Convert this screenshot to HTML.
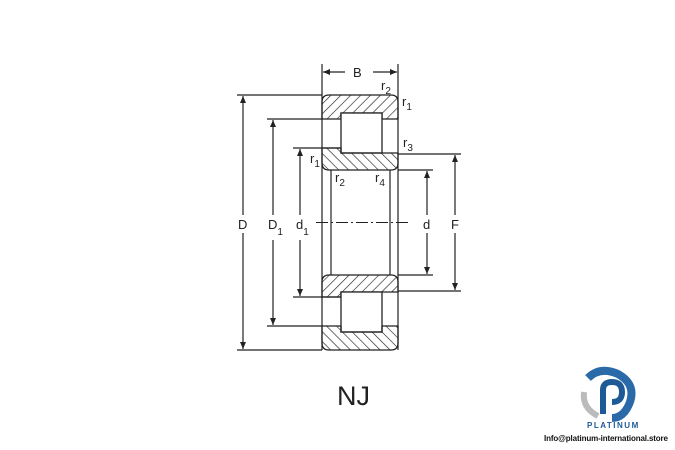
<!DOCTYPE html>
<html><head><meta charset="utf-8"><style>
html,body{margin:0;padding:0;background:#fff;}
svg{display:block;font-family:"Liberation Sans",sans-serif;}
</style></head><body>
<svg width="675" height="450" viewBox="0 0 675 450" xmlns="http://www.w3.org/2000/svg">
<defs>
<pattern id="h1" patternUnits="userSpaceOnUse" width="7" height="7" patternTransform="rotate(45)">
<line x1="0" y1="0" x2="0" y2="7" stroke="#222" stroke-width="1.3"/></pattern>
<pattern id="h2" patternUnits="userSpaceOnUse" width="7" height="7" patternTransform="rotate(-45)">
<line x1="0" y1="0" x2="0" y2="7" stroke="#222" stroke-width="1.3"/></pattern>
<marker id="a" markerWidth="8" markerHeight="8" refX="7" refY="3" orient="auto" markerUnits="userSpaceOnUse">
<path d="M0,0 L7,3 L0,6 z" fill="#222"/></marker>
</defs>
<g stroke="#222" stroke-width="1.2" fill="none">
<line x1="322" y1="64" x2="322" y2="350"/>
<line x1="398" y1="64" x2="398" y2="350"/>
<line x1="331" y1="170" x2="331" y2="275"/>
<line x1="390" y1="170" x2="390" y2="275"/>
<line x1="345" y1="72" x2="323" y2="72" marker-end="url(#a)"/>
<line x1="373" y1="72" x2="397" y2="72" marker-end="url(#a)"/>
<line x1="237" y1="95" x2="322" y2="95"/>
<line x1="237" y1="350" x2="322" y2="350"/>
<line x1="267" y1="119" x2="322" y2="119"/>
<line x1="267" y1="326" x2="322" y2="326"/>
<line x1="293" y1="148" x2="341" y2="148"/>
<line x1="293" y1="297" x2="341" y2="297"/>
<line x1="398" y1="154" x2="461" y2="154"/>
<line x1="398" y1="291" x2="461" y2="291"/>
<line x1="398" y1="170" x2="433" y2="170"/>
<line x1="398" y1="275" x2="433" y2="275"/>
<line x1="243" y1="215" x2="243" y2="96" marker-end="url(#a)"/>
<line x1="243" y1="233" x2="243" y2="349" marker-end="url(#a)"/>
<line x1="273" y1="215" x2="273" y2="120" marker-end="url(#a)"/>
<line x1="273" y1="240" x2="273" y2="325" marker-end="url(#a)"/>
<line x1="300" y1="215" x2="300" y2="149" marker-end="url(#a)"/>
<line x1="300" y1="240" x2="300" y2="296" marker-end="url(#a)"/>
<line x1="427" y1="215" x2="427" y2="171" marker-end="url(#a)"/>
<line x1="427" y1="233" x2="427" y2="274" marker-end="url(#a)"/>
<line x1="455" y1="215" x2="455" y2="155" marker-end="url(#a)"/>
<line x1="455" y1="233" x2="455" y2="290" marker-end="url(#a)"/>
<line x1="316" y1="222.5" x2="408" y2="222.5" stroke-dasharray="12,3,2,3" stroke-width="1"/>
</g>
<g stroke="#222" stroke-width="1.3">
<path d="M329,95 H391 Q398,95 398,102 V119 H382 V113 H341 V119 H322 V102 Q322,95 329,95 Z" fill="url(#h1)"/>
<rect x="341" y="113" width="41" height="40" fill="#fff"/>
<path d="M322,148 H341 V153 H398 V163 Q398,170 391,170 H329 Q322,170 322,163 Z" fill="url(#h2)"/>
<path d="M322,297 H341 V292 H398 V282 Q398,275 391,275 H329 Q322,275 322,282 Z" fill="url(#h1)"/>
<rect x="341" y="292" width="41" height="40" fill="#fff"/>
<path d="M329,350 H391 Q398,350 398,343 V326 H382 V332 H341 V326 H322 V343 Q322,350 329,350 Z" fill="url(#h2)"/>
</g>
<g fill="#222" font-size="13">
<text x="353" y="77">B</text>
<text x="381" y="90">r<tspan font-size="10" dy="4">2</tspan></text>
<text x="402" y="106">r<tspan font-size="10" dy="4">1</tspan></text>
<text x="403" y="147">r<tspan font-size="10" dy="4">3</tspan></text>
<text x="310" y="163">r<tspan font-size="10" dy="4">1</tspan></text>
<text x="335" y="182">r<tspan font-size="10" dy="4">2</tspan></text>
<text x="375" y="182">r<tspan font-size="10" dy="4">4</tspan></text>
<text x="238" y="229">D</text>
<text x="268" y="229">D<tspan font-size="10" dy="6">1</tspan></text>
<text x="296" y="229">d<tspan font-size="10" dy="6">1</tspan></text>
<text x="423" y="229">d</text>
<text x="451" y="229">F</text>
<text x="337" y="405" font-size="27">NJ</text>
</g>
<g>
<path d="M588,378 Q600,366 618,374 Q636,384 630,402 Q624,418 612,418" fill="none" stroke="#2a6aa8" stroke-width="8"/>
<path d="M584,392 Q582,408 598,416" fill="none" stroke="#bbb" stroke-width="6"/>
<path d="M603,414 V390 Q603,382 612,382 Q622,382 622,392 Q622,402 612,402" fill="none" stroke="#1e5a96" stroke-width="6"/>
<text x="587" y="428" font-size="8" font-weight="bold" fill="#1e5a96" letter-spacing="1.5">PLATINUM</text>
<text x="544" y="441" font-size="8" font-weight="bold" fill="#111" textLength="124">Info@platinum-international.store</text>
</g>
</svg>
</body></html>
